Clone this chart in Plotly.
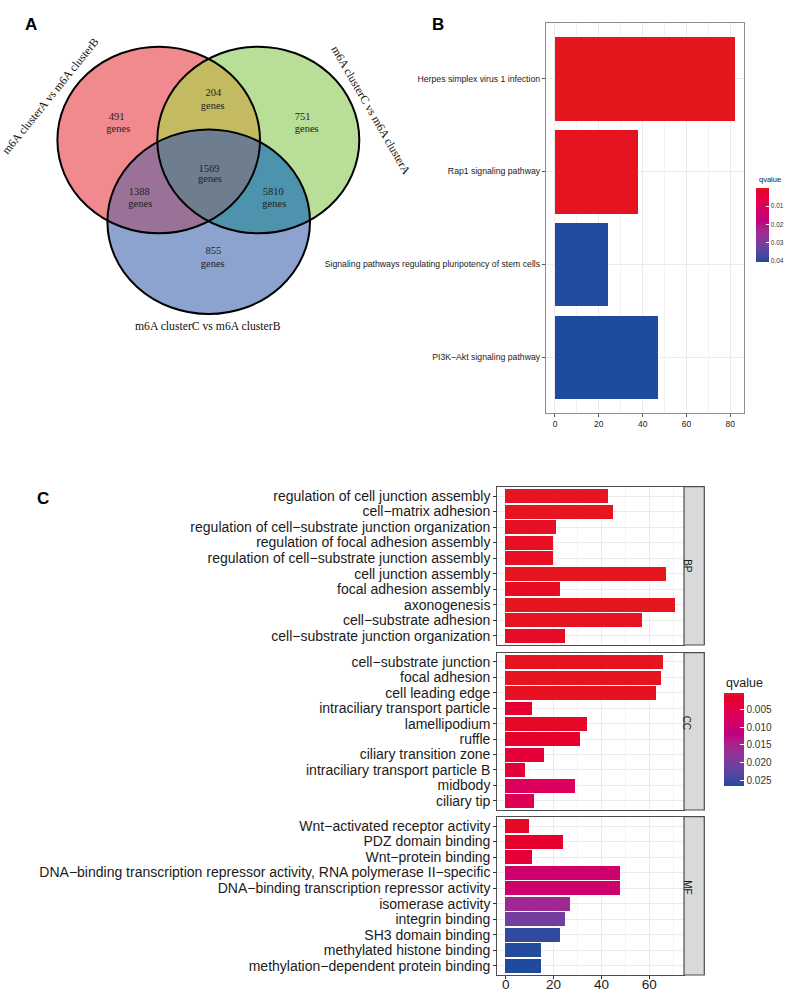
import math
import plotly.graph_objects as go

# ---------------- Data ----------------
venn_set_names = ["m6A clusterA vs m6A clusterB",
                  "m6A clusterC vs m6A clusterA",
                  "m6A clusterC vs m6A clusterB"]
# regions: A only, A&CA, CA only, all three, A&CB, CA&CB, CB only
venn_region_counts = [491, 204, 751, 1569, 1388, 5810, 855]

kegg_terms = ["Herpes simplex virus 1 infection",
              "Rap1 signaling pathway",
              "Signaling pathways regulating pluripotency of stem cells",
              "PI3K\u2212Akt signaling pathway"]
kegg_counts = [82, 38, 24, 47]
kegg_qvalues = [0.0001, 0.0003, 0.0402, 0.0405]
kegg_qticks = [0.01, 0.02, 0.03, 0.04]

bp_terms = ["regulation of cell junction assembly",
            "cell\u2212matrix adhesion",
            "regulation of cell\u2212substrate junction organization",
            "regulation of focal adhesion assembly",
            "regulation of cell\u2212substrate junction assembly",
            "cell junction assembly",
            "focal adhesion assembly",
            "axonogenesis",
            "cell\u2212substrate adhesion",
            "cell\u2212substrate junction organization"]
bp_counts = [43, 45, 21, 20, 20, 67, 23, 71, 57, 25]
bp_qvalues = [0.0004, 0.0003, 0.0006, 0.0006, 0.0006, 0.0002, 0.0008, 0.0002, 0.0003, 0.0008]

cc_terms = ["cell\u2212substrate junction",
            "focal adhesion",
            "cell leading edge",
            "intraciliary transport particle",
            "lamellipodium",
            "ruffle",
            "ciliary transition zone",
            "intraciliary transport particle B",
            "midbody",
            "ciliary tip"]
cc_counts = [66, 65, 63, 11, 34, 31, 16, 8, 29, 12]
cc_qvalues = [0.0003, 0.0003, 0.0005, 0.0020, 0.0010, 0.0015, 0.0030, 0.0030, 0.0070, 0.0060]

mf_terms = ["Wnt\u2212activated receptor activity",
            "PDZ domain binding",
            "Wnt\u2212protein binding",
            "DNA\u2212binding transcription repressor activity, RNA polymerase II\u2212specific",
            "DNA\u2212binding transcription repressor activity",
            "isomerase activity",
            "integrin binding",
            "SH3 domain binding",
            "methylated histone binding",
            "methylation\u2212dependent protein binding"]
mf_counts = [10, 24, 11, 48, 48, 27, 25, 23, 15, 15]
mf_qvalues = [0.0010, 0.0015, 0.0030, 0.0095, 0.0095, 0.0160, 0.0205, 0.0258, 0.0265, 0.0267]
go_qticks = [0.005, 0.010, 0.015, 0.020, 0.025]

facet_names = ["BP", "CC", "MF"]

# ---------------- Styling / geometry ----------------
W, H = 787, 992
LOW_COLOR = "#E6161F"   # low qvalue
HIGH_COLOR = "#1F4B9E"  # high qvalue
SANS = "Liberation Sans, Arial, sans-serif"
SERIF = "Liberation Serif, Times New Roman, serif"


def hex_to_lab(hx):
    r, g, b = [int(hx[i:i + 2], 16) / 255 for i in (1, 3, 5)]
    lin = lambda c: c / 12.92 if c <= 0.04045 else ((c + 0.055) / 1.055) ** 2.4
    r, g, b = lin(r), lin(g), lin(b)
    X = 0.4124 * r + 0.3576 * g + 0.1805 * b
    Y = 0.2126 * r + 0.7152 * g + 0.0722 * b
    Z = 0.0193 * r + 0.1192 * g + 0.9505 * b
    f = lambda t: t ** (1 / 3) if t > 0.008856 else 7.787 * t + 16 / 116
    fx, fy, fz = f(X / 0.95047), f(Y / 1.0), f(Z / 1.08883)
    return (116 * fy - 16, 500 * (fx - fy), 200 * (fy - fz))


def lab_to_hex(L, a, b):
    fy = (L + 16) / 116
    fx = fy + a / 500
    fz = fy - b / 200
    finv = lambda t: t ** 3 if t ** 3 > 0.008856 else (t - 16 / 116) / 7.787
    X, Y, Z = finv(fx) * 0.95047, finv(fy), finv(fz) * 1.08883
    r = 3.2406 * X - 1.5372 * Y - 0.4986 * Z
    g = -0.9689 * X + 1.8758 * Y + 0.0415 * Z
    bb = 0.0557 * X - 0.2040 * Y + 1.0570 * Z
    gam = lambda c: 12.92 * c if c <= 0.0031308 else 1.055 * max(c, 0) ** (1 / 2.4) - 0.055
    out = [max(0, min(255, round(gam(c) * 255))) for c in (r, g, bb)]
    return "#%02X%02X%02X" % tuple(out)


def lch_scale(c0, c1, n=20):
    L0, a0, b0 = hex_to_lab(c0)
    L1, a1, b1 = hex_to_lab(c1)
    C0, h0 = math.hypot(a0, b0), math.atan2(b0, a0)
    C1, h1 = math.hypot(a1, b1), math.atan2(b1, a1)
    dh = h1 - h0
    while dh > math.pi:
        dh -= 2 * math.pi
    while dh < -math.pi:
        dh += 2 * math.pi
    sc = []
    for i in range(n + 1):
        t = i / n
        L = L0 + (L1 - L0) * t
        C = C0 + (C1 - C0) * t
        h = h0 + dh * t
        sc.append([t, lab_to_hex(L, C * math.cos(h), C * math.sin(h))])
    return sc


# negative q used so that low q (red) sits at the top of the colour bar
colorscale = lch_scale(HIGH_COLOR, LOW_COLOR)


def px_x(p):
    return p / W


def px_y(p):
    return 1 - p / H


fig = go.Figure()

# ---------------- Panel A: Venn ----------------
VENN_W, VENN_H = 390, 340
circles = [  # cx, cy, rx, ry (pixels)
    (158.7, 140.0, 101.3, 93.3),
    (258.3, 140.0, 101.0, 93.3),
    (208.7, 221.7, 101.3, 92.3),
]
single_colors = ["#F08A8E", "#B8DE98", "#8DA3CF"]
pair_colors = {(0, 1): "#C4BA62", (0, 2): "#9A7298", (1, 2): "#4E93AE"}
triple_color = "#6E7E8E"
count_pos = [(116.7, 117.3), (213.3, 93.3), (302.7, 117.3), (209.0, 169.0),
             (139.3, 192.3), (273.3, 192.3), (213.3, 251.3)]
genes_pos = [(118.3, 129.3), (212.7, 106.0), (306.7, 129.3), (210.0, 179.3),
             (140.3, 204.0), (274.3, 204.0), (212.7, 264.0)]

NS = 720


def ellipse_pts(c):
    cx, cy, rx, ry = c
    return [(cx + rx * math.cos(2 * math.pi * k / NS), cy + ry * math.sin(2 * math.pi * k / NS))
            for k in range(NS)]


def inside(p, c):
    cx, cy, rx, ry = c
    return ((p[0] - cx) / rx) ** 2 + ((p[1] - cy) / ry) ** 2 <= 1.0 + 1e-9


def region_path(idx):
    pts = []
    for i in idx:
        for p in ellipse_pts(circles[i]):
            if all(inside(p, circles[j]) for j in idx if j != i):
                pts.append(p)
    mx = sum(p[0] for p in pts) / len(pts)
    my = sum(p[1] for p in pts) / len(pts)
    pts.sort(key=lambda p: math.atan2(p[1] - my, p[0] - mx))
    return "M " + " L ".join("%.2f,%.2f" % p for p in pts) + " Z"


shapes = []
for c, fc in zip(circles, single_colors):
    cx, cy, rx, ry = c
    shapes.append(dict(type="circle", xref="x", yref="y", x0=cx - rx, x1=cx + rx,
                       y0=cy - ry, y1=cy + ry, fillcolor=fc, line=dict(width=0), layer="below"))
for (i, j), fc in pair_colors.items():
    shapes.append(dict(type="path", xref="x", yref="y", path=region_path([i, j]),
                       fillcolor=fc, line=dict(width=0), layer="below"))
shapes.append(dict(type="path", xref="x", yref="y", path=region_path([0, 1, 2]),
                   fillcolor=triple_color, line=dict(width=0), layer="below"))
for (cx, cy, rx, ry) in circles:
    shapes.append(dict(type="circle", xref="x", yref="y", x0=cx - rx, x1=cx + rx,
                       y0=cy - ry, y1=cy + ry, fillcolor="rgba(0,0,0,0)",
                       line=dict(color="black", width=2), layer="above"))

fig.add_trace(go.Scatter(x=[p[0] for p in count_pos], y=[p[1] for p in count_pos],
                         text=[str(c) for c in venn_region_counts], mode="text",
                         textposition="middle center",
                         textfont=dict(family=SERIF, size=10.5, color="#222222"),
                         xaxis="x", yaxis="y", hoverinfo="skip", showlegend=False))
fig.add_trace(go.Scatter(x=[p[0] for p in genes_pos], y=[p[1] for p in genes_pos],
                         text=["genes"] * len(venn_region_counts), mode="text",
                         textposition="middle center",
                         textfont=dict(family=SERIF, size=10.5, color="#222222"),
                         xaxis="x", yaxis="y", hoverinfo="skip", showlegend=False))

annotations = []
set_label_pos = [(50.5, 96.5, -51), (371.0, 110.0, 60), (207.7, 326.7, 0)]
for name, (lx, ly, ang) in zip(venn_set_names, set_label_pos):
    annotations.append(dict(text=name, x=lx, y=ly, xref="x", yref="y", showarrow=False,
                            textangle=ang, xanchor="center", yanchor="middle",
                            font=dict(family=SERIF, size=11.7, color="#111111")))

# ---------------- Panel B: KEGG ----------------
fig.add_trace(go.Bar(x=kegg_counts, y=kegg_terms, orientation="h", width=0.9,
                     marker=dict(color=[-q for q in kegg_qvalues], coloraxis="coloraxis",
                                 line=dict(width=0)),
                     xaxis="x2", yaxis="y2", showlegend=False))

# ---------------- Panel C: GO facets ----------------
facets = [(bp_terms, bp_counts, bp_qvalues), (cc_terms, cc_counts, cc_qvalues),
          (mf_terms, mf_counts, mf_qvalues)]
for i, (terms, counts, qs) in enumerate(facets):
    fig.add_trace(go.Bar(x=counts, y=terms, orientation="h", width=0.9,
                         marker=dict(color=[-q for q in qs], coloraxis="coloraxis2",
                                     line=dict(width=0)),
                         xaxis="x%d" % (i + 3), yaxis="y%d" % (i + 3), showlegend=False))

all_go_q = bp_qvalues + cc_qvalues + mf_qvalues

# ---------------- Layout ----------------
hidden = dict(visible=False, showgrid=False, zeroline=False)
layout = dict(
    width=W, height=H, margin=dict(l=0, r=0, t=0, b=0),
    paper_bgcolor="white", plot_bgcolor="white", template="none",
    font=dict(family=SANS, color="#1A1A1A"),
    bargap=0,
    xaxis=dict(domain=[0, px_x(VENN_W)], range=[0, VENN_W], **hidden),
    yaxis=dict(domain=[px_y(VENN_H), 1], range=[VENN_H, 0], **hidden),
)

grid_major = "#EBEBEB"
grid_minor = "#F2F2F2"

# Panel B axes
b_max = max(kegg_counts)
layout["xaxis2"] = dict(domain=[px_x(546), px_x(743.7)], anchor="y2",
                        range=[-0.05 * b_max, 1.05 * b_max], tickvals=[0, 20, 40, 60, 80],
                        showgrid=True, gridcolor=grid_major, gridwidth=1, zeroline=False,
                        minor=dict(tickvals=[10, 30, 50, 70], showgrid=True, gridcolor=grid_minor,
                                   gridwidth=1, ticks=""),
                        showline=True, mirror=True, linecolor="#8C8C8C", linewidth=1.3,
                        ticks="outside", ticklen=3, tickcolor="#555555",
                        tickfont=dict(size=8.5, color="#1A1A1A"), automargin=False)
layout["yaxis2"] = dict(domain=[px_y(413), px_y(22.7)], anchor="x2", type="category",
                        categoryorder="array", categoryarray=kegg_terms,
                        tickmode="array", tickvals=kegg_terms, ticktext=kegg_terms,
                        range=[len(kegg_terms) - 0.4, -0.6],
                        showgrid=True, gridcolor=grid_major, gridwidth=1, zeroline=False,
                        showline=True, mirror=True, linecolor="#8C8C8C", linewidth=1.3,
                        ticks="outside", ticklen=3, tickcolor="#555555",
                        tickfont=dict(size=8.7, color="#1A1A1A"), automargin=False)

# Panel C axes
c_max = max(bp_counts + cc_counts + mf_counts)
c_panels = [(486.7, 645.0), (652.7, 810.0), (816.7, 975.0)]
for i, ((top, bot), (terms, _, _)) in enumerate(zip(c_panels, facets)):
    k = i + 3
    bottom_axis = (i == len(facets) - 1)
    layout["xaxis%d" % k] = dict(domain=[px_x(497.3), px_x(684)], anchor="y%d" % k,
                                 range=[-0.05 * c_max, 1.05 * c_max], tickvals=[0, 20, 40, 60],
                                 showgrid=True, gridcolor=grid_major, gridwidth=1, zeroline=False,
                                 minor=dict(tickvals=[10, 30, 50, 70], showgrid=True,
                                            gridcolor=grid_minor, gridwidth=1, ticks=""),
                                 showline=True, mirror=True, linecolor="#4D4D4D", linewidth=1.2,
                                 ticks="outside" if bottom_axis else "", ticklen=3,
                                 tickcolor="#333333", showticklabels=bottom_axis,
                                 ticklabelstandoff=-6,
                                 tickfont=dict(size=13.5, color="#1A1A1A"), automargin=False)
    layout["yaxis%d" % k] = dict(domain=[px_y(bot), px_y(top)], anchor="x%d" % k, type="category",
                                 categoryorder="array", categoryarray=terms,
                                 tickmode="array", tickvals=terms, ticktext=terms,
                                 range=[len(terms) - 0.4, -0.6],
                                 showgrid=True, gridcolor=grid_major, gridwidth=1, zeroline=False,
                                 showline=True, mirror=True, linecolor="#4D4D4D", linewidth=1.2,
                                 ticks="outside", ticklen=3, tickcolor="#333333",
                                 tickfont=dict(size=14, color="#1A1A1A"), automargin=False)
    # strip
    shapes.append(dict(type="rect", xref="paper", yref="paper", x0=px_x(684), x1=px_x(704.3),
                       y0=px_y(bot), y1=px_y(top), fillcolor="#D9D9D9",
                       line=dict(color="#4D4D4D", width=1.2), layer="above"))
    annotations.append(dict(text=facet_names[i], x=px_x(694.2), y=px_y((top + bot) / 2),
                            xref="paper", yref="paper", showarrow=False, textangle=90,
                            font=dict(size=10, color="#1A1A1A")))

# colour axes
layout["coloraxis"] = dict(
    colorscale=colorscale, cmin=-max(kegg_qvalues), cmax=-min(kegg_qvalues),
    colorbar=dict(x=px_x(756), xanchor="left", xpad=0, y=px_y(188), yanchor="top", ypad=0,
                  len=74, lenmode="pixels", thickness=13, thicknessmode="pixels",
                  outlinewidth=0, tickvals=[-q for q in kegg_qticks],
                  ticktext=["%.2f" % q for q in kegg_qticks], ticks="inside", ticklen=3,
                  tickcolor="white", tickwidth=1, tickfont=dict(size=6.5, color="#333333")))
layout["coloraxis2"] = dict(
    colorscale=colorscale, cmin=-max(all_go_q), cmax=-min(all_go_q),
    colorbar=dict(x=px_x(724), xanchor="left", xpad=0, y=px_y(693), yanchor="top", ypad=0,
                  len=93, lenmode="pixels", thickness=20, thicknessmode="pixels",
                  outlinewidth=0, tickvals=[-q for q in go_qticks],
                  ticktext=["%.3f" % q for q in go_qticks], ticks="inside", ticklen=4,
                  tickcolor="white", tickwidth=1, tickfont=dict(size=10, color="#333333")))

annotations += [
    dict(text="qvalue", x=px_x(757), y=px_y(180), xref="paper", yref="paper", showarrow=False,
         xanchor="left", yanchor="middle", font=dict(size=7.5, color="#1A1A1A")),
    dict(text="qvalue", x=px_x(724), y=px_y(683), xref="paper", yref="paper", showarrow=False,
         xanchor="left", yanchor="middle", font=dict(size=12.5, color="#1A1A1A")),
    dict(text="<b>A</b>", x=px_x(23), y=px_y(13), xref="paper", yref="paper", showarrow=False,
         font=dict(size=17, color="black")),
    dict(text="<b>B</b>", x=px_x(437.5), y=px_y(13), xref="paper", yref="paper", showarrow=False,
         font=dict(size=17, color="black")),
    dict(text="<b>C</b>", x=px_x(35), y=px_y(498), xref="paper", yref="paper", showarrow=False,
         font=dict(size=17, color="black")),
]

layout["shapes"] = shapes
layout["annotations"] = annotations
fig.update_layout(**layout)

fig.write_html("out.html", config={"displayModeBar": False},
               post_script="document.body.style.margin='0px';document.body.style.padding='0px';")
